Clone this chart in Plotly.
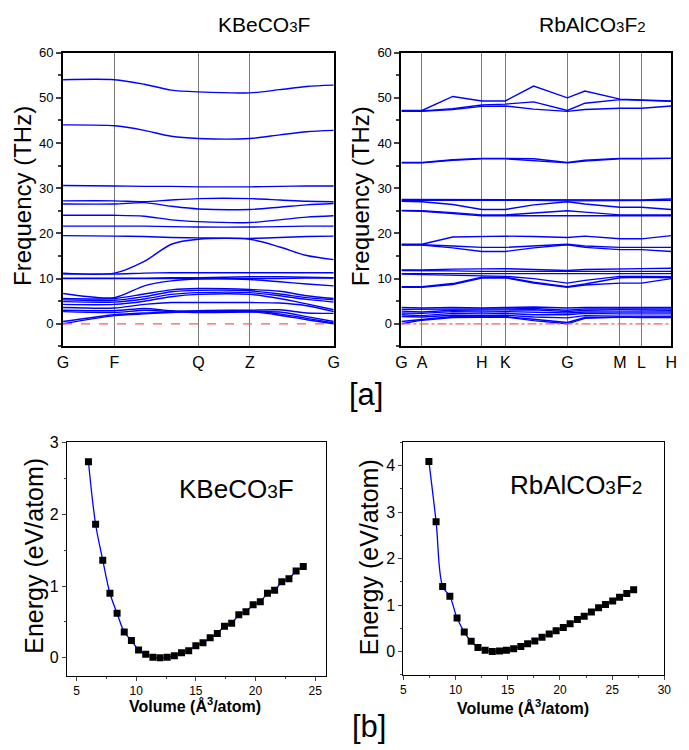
import plotly.graph_objects as go

FONT = "Liberation Sans, Arial, sans-serif"
BLUE = "#0000ff"
# page body keeps its default 8px margin, so the figure is drawn 8px in
PAGE_W, PAGE_H, PAD = 689, 750, 8
W, H = PAGE_W - PAD, PAGE_H - PAD

# phonon dispersion of KBeCO3F (THz) sampled along G-F-Q-Z-G
KBE_SYM_POS = [0, 0.19, 0.50, 0.69, 1.0]
KBE_SYM_LABELS = ["G", "F", "Q", "Z", "G"]
KBE_K = [0, 0.19, 0.30, 0.40, 0.50, 0.69, 0.80, 0.90, 1.0]
KBE_BANDS = [
    [54.0, 54.0, 53.0, 51.7, 51.3, 51.1, 51.8, 52.5, 52.8],
    [44.0, 43.8, 42.8, 41.5, 41.0, 41.0, 41.8, 42.5, 42.8],
    [30.6, 30.5, 30.4, 30.4, 30.3, 30.3, 30.4, 30.5, 30.5],
    [27.2, 27.2, 27.0, 27.4, 27.7, 27.7, 27.4, 27.1, 27.0],
    [26.5, 26.5, 26.8, 26.0, 25.4, 25.3, 25.8, 26.3, 26.6],
    [24.0, 24.0, 23.8, 23.0, 22.6, 22.4, 23.0, 23.6, 23.9],
    [21.6, 21.6, 21.6, 21.5, 21.4, 21.4, 21.5, 21.6, 21.6],
    [19.5, 19.4, 19.3, 19.1, 19.0, 18.9, 19.1, 19.3, 19.4],
    [11.2, 11.2, 13.8, 17.6, 18.7, 18.7, 17.0, 15.1, 14.2],
    [11.0, 11.0, 11.2, 11.3, 11.3, 11.3, 11.3, 11.3, 11.3],
    [10.1, 10.1, 10.1, 10.2, 10.2, 10.4, 10.4, 10.3, 10.2],
    [10.0, 10.0, 10.0, 10.0, 10.0, 10.0, 10.0, 10.1, 10.1],
    [6.7, 5.8, 8.4, 9.5, 9.9, 9.8, 9.3, 8.8, 8.4],
    [5.6, 5.6, 6.6, 7.5, 7.8, 7.6, 7.2, 6.2, 5.6],
    [5.3, 5.2, 6.0, 7.1, 7.4, 7.3, 6.6, 5.8, 5.3],
    [4.9, 4.8, 5.5, 6.5, 6.9, 6.9, 6.2, 5.4, 4.8],
    [4.3, 4.3, 5.0, 6.0, 6.5, 6.5, 5.6, 4.4, 3.1],
    [3.6, 3.5, 4.3, 4.7, 4.7, 4.7, 4.6, 4.0, 2.7],
    [3.0, 2.9, 3.4, 2.9, 2.8, 3.0, 3.1, 2.4, 2.3],
    [2.7, 2.5, 3.0, 2.7, 2.5, 2.6, 2.6, 1.6, 0.5],
    [0.5, 2.0, 2.4, 2.6, 2.9, 2.9, 2.2, 1.2, 0.2],
    [0.0, 1.8, 2.2, 2.5, 2.7, 2.7, 1.9, 0.9, 0.0],
]

# phonon dispersion of RbAlCO3F2 (THz) along G-A-H-K-G-M-L-H
RB_SYM_POS = [0, 0.076, 0.298, 0.385, 0.615, 0.81, 0.89, 1.0]
RB_SYM_LABELS = ["G", "A", "H", "K", "G", "M", "L", "H"]
RB_K = [0, 0.076, 0.19, 0.298, 0.385, 0.49, 0.615, 0.68, 0.81, 0.89, 1.0]
RB_BANDS = [
    [47.2, 47.2, 50.3, 49.3, 49.3, 52.6, 50.0, 51.5, 49.7, 49.6, 49.3],
    [47.1, 47.1, 47.6, 48.4, 48.6, 49.1, 47.2, 48.8, 49.6, 49.5, 49.2],
    [47.0, 47.0, 47.4, 48.1, 48.2, 47.5, 47.0, 47.4, 47.7, 47.7, 48.2],
    [35.7, 35.7, 36.3, 36.6, 36.6, 36.5, 35.7, 36.2, 36.6, 36.6, 36.6],
    [35.6, 35.6, 36.2, 36.5, 36.5, 36.1, 35.6, 36.0, 36.5, 36.5, 36.6],
    [27.5, 27.5, 27.5, 27.5, 27.5, 27.5, 27.5, 27.5, 27.4, 27.4, 27.6],
    [27.3, 27.3, 27.3, 27.4, 27.4, 27.3, 27.2, 27.2, 27.2, 27.2, 27.3],
    [27.1, 27.0, 26.4, 25.3, 25.3, 26.3, 27.0, 26.5, 25.8, 25.8, 25.3],
    [25.1, 25.0, 24.6, 24.1, 24.1, 24.5, 25.0, 24.7, 24.1, 24.1, 24.1],
    [25.0, 24.9, 24.4, 23.9, 23.9, 23.9, 23.9, 23.9, 23.9, 23.9, 23.9],
    [17.6, 17.6, 19.2, 19.4, 19.4, 19.3, 19.1, 19.4, 18.8, 18.8, 19.5],
    [17.5, 17.5, 17.2, 16.9, 16.9, 17.2, 17.6, 17.2, 16.9, 16.9, 16.9],
    [17.4, 17.4, 16.8, 16.0, 16.0, 16.8, 17.5, 16.9, 16.4, 16.4, 16.0],
    [11.9, 11.9, 12.1, 12.2, 12.2, 12.0, 11.8, 12.0, 12.2, 12.2, 12.3],
    [11.8, 11.7, 11.7, 11.6, 11.6, 11.6, 11.5, 11.6, 11.6, 11.6, 11.6],
    [11.1, 11.1, 11.1, 11.1, 11.1, 11.0, 11.0, 11.1, 11.1, 11.1, 11.1],
    [11.0, 10.9, 10.8, 10.6, 10.5, 10.0, 9.0, 9.6, 10.5, 10.5, 10.4],
    [8.2, 8.2, 8.9, 10.3, 10.3, 9.2, 8.2, 8.8, 10.2, 10.3, 10.2],
    [8.1, 8.1, 8.7, 10.1, 10.2, 9.0, 8.1, 8.6, 9.0, 9.0, 10.0],
    [3.6, 3.5, 3.6, 3.5, 3.6, 3.7, 3.5, 3.6, 3.6, 3.6, 3.6],
    [3.2, 3.2, 3.3, 3.2, 3.3, 3.4, 3.0, 3.3, 3.3, 3.2, 3.3],
    [2.8, 2.6, 3.0, 3.0, 3.0, 3.1, 2.7, 3.0, 3.1, 3.0, 3.0],
    [2.4, 2.3, 2.7, 2.6, 2.7, 2.6, 2.4, 2.6, 2.7, 2.6, 2.6],
    [2.0, 1.8, 2.3, 2.2, 2.3, 2.0, 2.0, 2.3, 2.2, 2.2, 2.2],
    [1.6, 1.5, 1.9, 1.8, 1.9, 1.5, 1.3, 1.8, 1.7, 1.7, 1.7],
    [0.5, 1.0, 1.6, 1.6, 1.6, 1.0, 0.3, 1.4, 1.5, 1.5, 1.5],
    [0.0, 0.8, 1.4, 1.5, 1.5, 0.7, 0.0, 1.2, 1.5, 1.4, 1.4],
]

# energy-volume curves
KBE_VOLUME = [6.0, 6.6, 7.2, 7.8, 8.4, 9.0, 9.6, 10.2, 10.8, 11.4, 12.0, 12.6,
              13.2, 13.8, 14.4, 15.0, 15.6, 16.2, 16.8, 17.4, 18.0, 18.6, 19.2,
              19.8, 20.4, 21.0, 21.6, 22.2, 22.8, 23.4, 24.0]
KBE_ENERGY = [2.73, 1.86, 1.36, 0.90, 0.62, 0.36, 0.24, 0.11, 0.05, 0.01, 0.0,
              0.01, 0.03, 0.07, 0.10, 0.17, 0.21, 0.28, 0.34, 0.44, 0.48, 0.60,
              0.64, 0.74, 0.78, 0.90, 0.94, 1.06, 1.10, 1.21, 1.27]
RB_VOLUME = [7.44, 8.13, 8.76, 9.45, 10.14, 10.83, 11.49, 12.14, 12.83, 13.52,
             14.21, 14.87, 15.56, 16.25, 16.90, 17.59, 18.28, 18.97, 19.63,
             20.32, 20.97, 21.67, 22.32, 23.01, 23.70, 24.36, 25.05, 25.71,
             26.40, 27.06]
RB_ENERGY = [4.09, 2.79, 1.40, 1.19, 0.72, 0.42, 0.22, 0.09, 0.03, 0.0, 0.01,
             0.03, 0.06, 0.11, 0.17, 0.23, 0.31, 0.38, 0.45, 0.52, 0.60, 0.69,
             0.76, 0.85, 0.94, 1.01, 1.09, 1.17, 1.25, 1.33]


def px_x(p):
    return (p - PAD) / W


def px_y(p):
    return 1 - (p - PAD) / H


fig = go.Figure()

for band in KBE_BANDS:
    fig.add_trace(go.Scatter(x=KBE_K, y=band, mode="lines", xaxis="x", yaxis="y",
                             line={"color": BLUE, "width": 1.4, "shape": "spline", "smoothing": 0.8},
                             hoverinfo="skip"))
for band in RB_BANDS:
    fig.add_trace(go.Scatter(x=RB_K, y=band, mode="lines", xaxis="x2", yaxis="y2",
                             line={"color": BLUE, "width": 1.4}, hoverinfo="skip"))

for vol, en, xa, ya in [(KBE_VOLUME, KBE_ENERGY, "x3", "y3"), (RB_VOLUME, RB_ENERGY, "x4", "y4")]:
    fig.add_trace(go.Scatter(x=vol, y=en, mode="lines+markers", xaxis=xa, yaxis=ya,
                             line={"color": BLUE, "width": 1.3, "shape": "spline"},
                             marker={"symbol": "square", "size": 7, "color": "black"}))

# zero-frequency reference lines
for xa, ya, dash in [("x", "y", "dash"), ("x2", "y2", "dashdot")]:
    fig.add_shape(type="line", xref=f"{xa} domain", yref=ya, x0=0, x1=1, y0=0, y1=0,
                  line={"color": "#ff5a5a", "width": 1.2, "dash": dash})

band_x = {
    "showgrid": True, "gridcolor": "#7a7a7a", "gridwidth": 1, "zeroline": False,
    "range": [0, 1], "ticks": "", "showline": True, "linecolor": "black",
    "linewidth": 2, "mirror": True, "tickfont": {"size": 16, "color": "black"},
    "ticklabelstandoff": 0,
}
band_y = {
    "range": [-5, 60], "tickvals": [0, 10, 20, 30, 40, 50, 60], "showgrid": False,
    "zeroline": False, "ticks": "outside", "ticklen": 5, "tickwidth": 1.5,
    "showline": True, "linecolor": "black", "linewidth": 2, "mirror": True,
    "tickfont": {"size": 13, "color": "black"},
    "minor": {"dtick": 5, "tick0": 0, "ticks": "outside", "ticklen": 3, "showgrid": False},
}
ev_x = {
    "showgrid": False, "zeroline": False, "ticks": "outside", "ticklen": 4,
    "showline": True, "linecolor": "black", "linewidth": 1, "mirror": True,
    "tickfont": {"size": 12, "color": "black"}, "dtick": 5,
    "minor": {"dtick": 2.5, "ticks": "outside", "ticklen": 2},
}
ev_y = {
    "showgrid": False, "zeroline": False, "ticks": "outside", "ticklen": 4,
    "showline": True, "linecolor": "black", "linewidth": 1, "mirror": True,
    "tickfont": {"size": 16, "color": "black"}, "dtick": 1,
    "minor": {"dtick": 0.5, "ticks": "outside", "ticklen": 2},
}

fig.update_layout(
    width=W, height=H,
    margin={"l": 0, "r": 0, "t": 0, "b": 0},
    paper_bgcolor="white", plot_bgcolor="white",
    font={"family": FONT, "color": "black"},
    showlegend=False,
    xaxis={**band_x, "domain": [px_x(58), px_x(334)], "anchor": "y",
           "tickvals": KBE_SYM_POS, "ticktext": KBE_SYM_LABELS},
    yaxis={**band_y, "domain": [px_y(342), px_y(45)], "anchor": "x"},
    xaxis2={**band_x, "domain": [px_x(403), px_x(678)], "anchor": "y2",
            "tickvals": RB_SYM_POS, "ticktext": RB_SYM_LABELS},
    yaxis2={**band_y, "domain": [px_y(342), px_y(45)], "anchor": "x2"},
    xaxis3={**ev_x, "domain": [px_x(62), px_x(326)], "anchor": "y3", "range": [4.2, 25.9]},
    yaxis3={**ev_y, "domain": [px_y(675), px_y(439)], "anchor": "x3", "range": [-0.25, 3]},
    xaxis4={**ev_x, "domain": [px_x(405), px_x(671)], "anchor": "y4", "range": [5, 30]},
    yaxis4={**ev_y, "domain": [px_y(674), px_y(439)], "anchor": "x4", "range": [-0.5, 4.5]},
)


def note(text, x, y, size, angle=0):
    fig.add_annotation(text=text, x=px_x(x), y=px_y(y), xref="paper", yref="paper",
                       showarrow=False, xanchor="center", yanchor="middle",
                       textangle=angle, font={"size": size, "family": FONT, "color": "black"})


def formula(parts, size):
    small = round(size * 0.72)
    return "".join(p if not p.isdigit() else f"<span style='font-size:{small}px'>{p}</span>" for p in parts)


note(formula(["KBeCO", "3", "F"], 21), 263, 17, 21)
note(formula(["RbAlCO", "3", "F", "2"], 21), 598, 17, 21)
note(formula(["KBeCO", "3", "F"], 26), 235, 486, 26)
note(formula(["RbAlCO", "3", "F", "2"], 26), 581, 482, 26)
note("Frequency (THz)", 16, 190, 24, -90)
note("Frequency (THz)", 361, 190, 24, -90)
note("Energy (eV/atom)", 28, 554, 25, -90)
note("Energy (eV/atom)", 370, 555, 25, -90)
note("<b>Volume (Å<sup>3</sup>/atom)</b>", 193, 705, 16)
note("<b>Volume (Å<sup>3</sup>/atom)</b>", 527, 707, 16)
note("[a]", 367, 391, 31)
note("[b]", 370, 726, 31)

fig.write_html("out.html")
